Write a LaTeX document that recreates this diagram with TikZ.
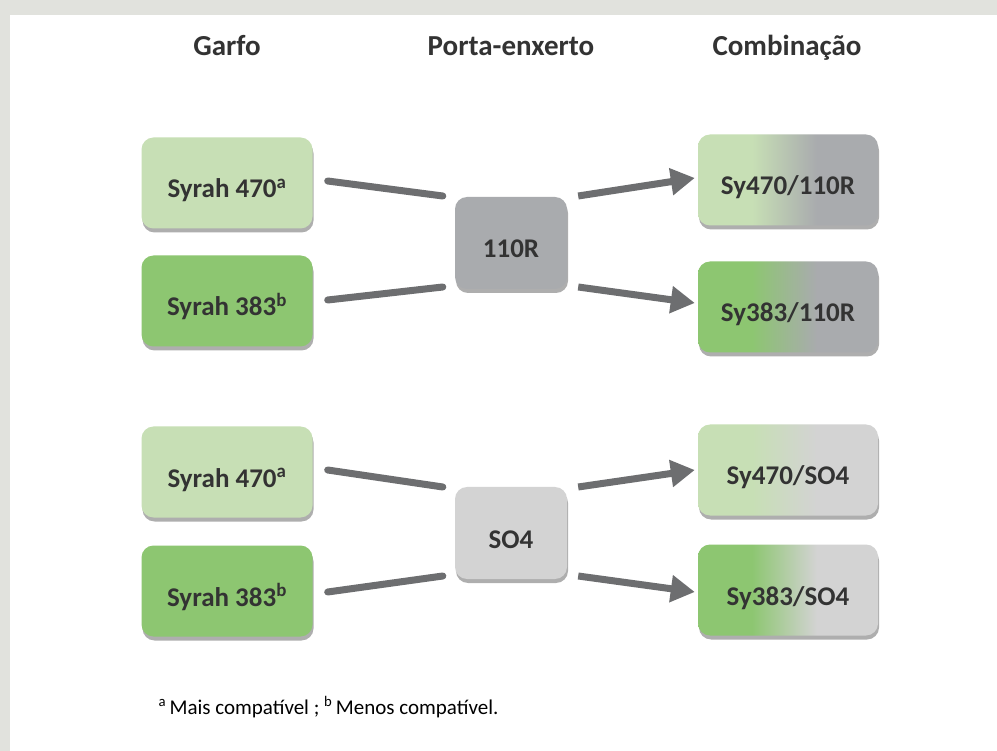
\documentclass[tikz,border=0pt]{standalone}
\usepackage{fontspec}
\setmainfont{Carlito}
\usetikzlibrary{shadows,arrows.meta}
\definecolor{bggrey}{HTML}{E1E2DD}
\definecolor{lgreen}{HTML}{C7DFB5}
\definecolor{dgreen}{HTML}{8DC671}
\definecolor{midgrey}{HTML}{A9ABAE}
\definecolor{lgrey}{HTML}{D3D3D3}
\definecolor{linegrey}{HTML}{6D6E70}
\definecolor{txt}{HTML}{333333}
\pgfdeclarehorizontalshading{lgmg}{100bp}{color(0bp)=(lgreen); color(40bp)=(lgreen); color(58bp)=(midgrey); color(100bp)=(midgrey)}
\pgfdeclarehorizontalshading{dgmg}{100bp}{color(0bp)=(dgreen); color(40bp)=(dgreen); color(58bp)=(midgrey); color(100bp)=(midgrey)}
\pgfdeclarehorizontalshading{lglg}{100bp}{color(0bp)=(lgreen); color(40bp)=(lgreen); color(58bp)=(lgrey); color(100bp)=(lgrey)}
\pgfdeclarehorizontalshading{dglg}{100bp}{color(0bp)=(dgreen); color(40bp)=(dgreen); color(58bp)=(lgrey); color(100bp)=(lgrey)}
\tikzset{
  box/.style={rounded corners=12pt, inner sep=0pt, text=txt, font=\bfseries\fontsize{27}{32}\selectfont,
    text height=30pt, text depth=0pt,
    drop shadow={shadow xshift=1pt, shadow yshift=-4pt, opacity=0.45, fill=black!70}},
  scion/.style={box, minimum width=171pt, minimum height=91pt},
  root/.style={box, minimum width=112pt, minimum height=92pt},
  combo/.style={box, minimum width=180pt, minimum height=91pt},
  head/.style={text=txt, anchor=base, font=\bfseries\fontsize{29}{34}\selectfont},
  link/.style={draw=linegrey, line width=7pt, line cap=round},
  arr/.style={link, -{Triangle[length=24pt,width=26pt]}, line cap=butt}
}
\begin{document}
\begin{tikzpicture}[x=1pt,y=-1pt]
\useasboundingbox (0,0) rectangle (997,751);
\fill[bggrey] (0,0) rectangle (997,751);
\fill[white] (10,15) rectangle (997,751);

\node[head] (h1) at (227,56) {Garfo};
\node[head] (h2) at (511,56) {Porta-enxerto};
\node[head] (h3) at (787,56) {Combinação};

% top group
\node[scion, fill=lgreen] (s1) at (227,183) {Syrah 470\textsuperscript{a}};
\node[scion, fill=dgreen] (s2) at (227,301) {Syrah 383\textsuperscript{b}};
\node[root, fill=midgrey] (r1) at (511,243) {110R};
\node[combo, shading=lgmg] (c1) at (788,180) {Sy470/110R};
\node[combo, shading=dgmg] (c2) at (788,307) {Sy383/110R};

% bottom group
\node[scion, fill=lgreen] (s3) at (227,472) {Syrah 470\textsuperscript{a}};
\node[scion, fill=dgreen] (s4) at (227,591) {Syrah 383\textsuperscript{b}};
\node[root, fill=lgrey] (r2) at (511,533) {SO4};
\node[combo, shading=lglg] (c3) at (788,470) {Sy470/SO4};
\node[combo, shading=dglg] (c4) at (788,590) {Sy383/SO4};

\draw[link] ([xshift=15pt,yshift=2pt]s1.east) -- ([xshift=-12pt,yshift=47pt]r1.west);
\draw[link] ([xshift=15pt,yshift=1pt]s2.east) -- ([xshift=-12pt,yshift=-44pt]r1.west);
\draw[arr] ([xshift=11pt,yshift=47pt]r1.east) -- ([xshift=-3pt,yshift=2pt]c1.west);
\draw[arr] ([xshift=11pt,yshift=-44pt]r1.east) -- ([xshift=-3pt,yshift=4pt]c2.west);

\draw[link] ([xshift=15pt,yshift=2pt]s3.east) -- ([xshift=-12pt,yshift=46pt]r2.west);
\draw[link] ([xshift=15pt,yshift=-1pt]s4.east) -- ([xshift=-12pt,yshift=-43pt]r2.west);
\draw[arr] ([xshift=11pt,yshift=46pt]r2.east) -- ([xshift=-3pt,yshift=0pt]c3.west);
\draw[arr] ([xshift=11pt,yshift=-43pt]r2.east) -- ([xshift=-3pt,yshift=-2pt]c4.west);

\node[anchor=west, text=black, font=\fontsize{21}{25}\selectfont] (fn) at (155,707) {\textsuperscript{a}\,Mais compatível ; \textsuperscript{b}\,Menos compatível.};
\end{tikzpicture}
\end{document}
